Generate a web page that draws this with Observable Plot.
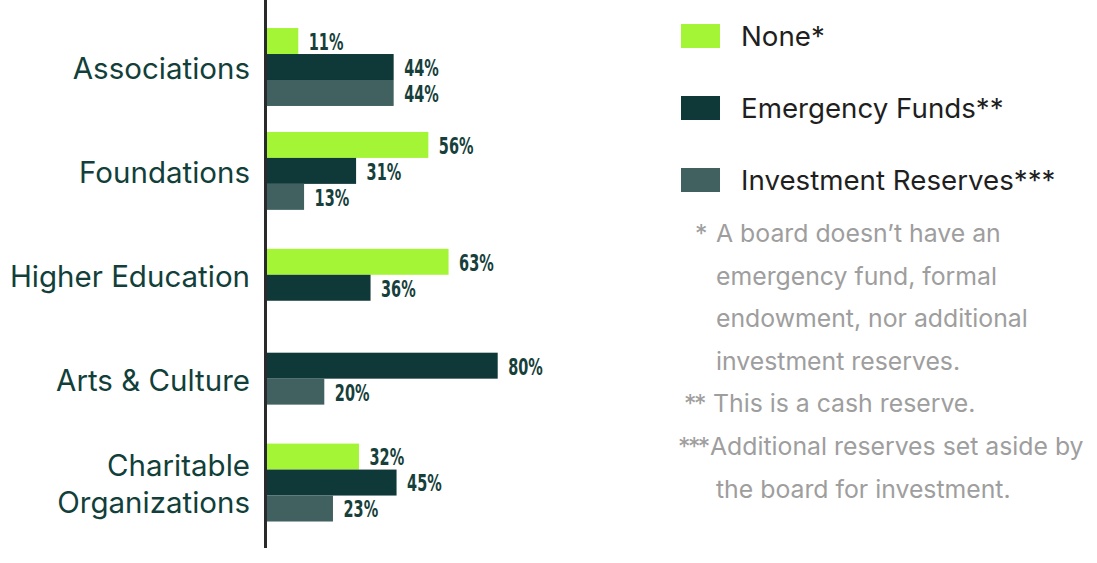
<!DOCTYPE html>
<html>
<head>
<meta charset="utf-8">
<script src="https://cdn.jsdelivr.net/npm/d3@7"></script>
<script src="https://cdn.jsdelivr.net/npm/@observablehq/plot@0.6"></script>
<style>
  html, body { margin: 0; padding: 0; background: #fff; }
  #wrap { position: relative; width: 1097px; height: 563px; overflow: hidden; font-family: Inter, "Open Sans", sans-serif; }
  #chart { position: absolute; left: 0; top: 0; }
  .lg-item { position: absolute; left: 681px; height: 24px; display: flex; align-items: center; white-space: nowrap; }
  .lg-sw { width: 39px; height: 24px; margin-right: 21px; flex: none; }
  .lg-tx { font-size: 27.7px; color: #1f1f1f; }
  #notes { position: absolute; left: 660px; top: 212px; font-size: 24.8px; line-height: 42.6px; color: #9e9e9e; white-space: nowrap; }
  .note { position: relative; padding-left: 56px; }
  .mark { position: absolute; top: 0; letter-spacing: -2.5px; }
</style>
</head>
<body>
<div id="wrap">
  <div id="chart"></div>
  <div id="legend"></div>
  <div id="notes"></div>
</div>
<script>
const categories = ["Associations", "Foundations", "Higher Education", "Arts & Culture", "Charitable Organizations"];
const categoryLabels = ["Associations", "Foundations", "Higher Education", "Arts & Culture", "Charitable\nOrganizations"];
const series = ["None*", "Emergency Funds**", "Investment Reserves***"];
const noneValues = [11, 56, 63, null, 32];
const emergencyValues = [44, 31, 36, 80, 45];
const investmentValues = [44, 13, null, 20, 23];
const colors = ["#a4f535", "#0f3838", "#406160"];
const footnoteMarks = ["*", "**", "***"];
const footnoteLines = [
  ["A board doesn\u2019t have an", "emergency fund, formal", "endowment, nor additional", "investment reserves."],
  ["This is a cash reserve."],
  ["Additional reserves set aside by", "the board for investment."]
];

const seriesValues = [noneValues, emergencyValues, investmentValues];
const GROUP = 4; // slots per group (3 bars + gap)

// Bars of each category are centred on the category position
const rows = [];
categories.forEach((cat, i) => {
  const present = series.map((s, j) => ({s, v: seriesValues[j][i]})).filter(d => d.v != null);
  const n = present.length;
  present.forEach((d, k) => {
    rows.push({category: cat, series: d.s, value: d.v, pos: GROUP * i + k - (n - 1) / 2});
  });
});
const catRows = categories.map((c, i) => ({category: c, label: categoryLabels[i], pos: GROUP * i}));

const plot = Plot.plot({
  width: 660,
  height: 563,
  marginLeft: 266.5,
  marginRight: 104.5,
  marginTop: 0,
  marginBottom: 15,
  x: {domain: [0, 100], axis: null},
  y: {domain: [-2.58, 18.52], reverse: true, axis: null},
  color: {domain: series, range: colors},
  style: {background: "transparent"},
  marks: [
    Plot.rect(rows, {
      x1: 0, x2: "value",
      y1: d => d.pos - 0.5, y2: d => d.pos + 0.5,
      fill: "series"
    }),
    Plot.text(rows, {
      x: "value", y: "pos", text: d => d.value + "%",
      textAnchor: "start", dx: 10, dy: 1,
      fill: "#173f3b",
      fontSize: 23,
      fontFamily: "'DejaVu Sans Condensed', 'DejaVu Sans', sans-serif",
      fontWeight: 700
    }),
    Plot.text(catRows, {
      x: 0, y: "pos", text: "label",
      textAnchor: "end", dx: -17,
      lineHeight: 1.24,
      fill: "#123f3a",
      fontSize: 29.5,
      fontFamily: "Inter, 'Open Sans', sans-serif"
    }),
    Plot.ruleX([0], {stroke: "#2a2a2a", strokeWidth: 3, dx: -1.5})
  ]
});
document.getElementById("chart").appendChild(plot);

// Narrow the value labels (condensed look)
const textGroups = plot.querySelectorAll('g[aria-label="text"]');
if (textGroups.length) {
  textGroups[0].querySelectorAll("text").forEach(t => {
    const len = t.getComputedTextLength();
    t.setAttribute("textLength", (len * 0.7).toFixed(2));
    t.setAttribute("lengthAdjust", "spacingAndGlyphs");
  });
}

// Legend
const legend = document.getElementById("legend");
series.forEach((s, j) => {
  const item = document.createElement("div");
  item.className = "lg-item";
  item.style.top = (24 + 72 * j) + "px";
  const sw = document.createElement("div");
  sw.className = "lg-sw";
  sw.style.background = colors[j];
  const tx = document.createElement("div");
  tx.className = "lg-tx";
  tx.textContent = s;
  item.appendChild(sw);
  item.appendChild(tx);
  legend.appendChild(item);
});

// Footnotes
const notes = document.getElementById("notes");
const markLeft = [35, 24, 18];
const firstIndent = [0, -3, -6];
footnoteLines.forEach((lines, j) => {
  const div = document.createElement("div");
  div.className = "note";
  div.style.textIndent = firstIndent[j] + "px";
  const m = document.createElement("span");
  m.className = "mark";
  m.style.left = markLeft[j] + "px";
  m.style.textIndent = "0";
  m.textContent = footnoteMarks[j];
  div.appendChild(m);
  lines.forEach((ln, k) => {
    if (k > 0) div.appendChild(document.createElement("br"));
    div.appendChild(document.createTextNode(ln));
  });
  notes.appendChild(div);
});
</script>
</body>
</html>
